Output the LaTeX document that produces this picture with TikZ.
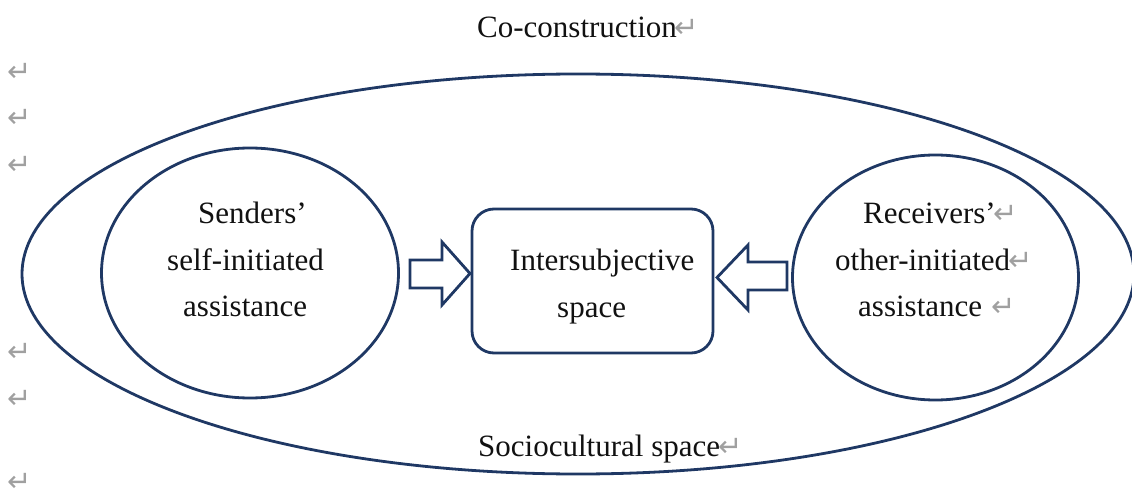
\documentclass[tikz,border=0pt]{standalone}
\usepackage{fontspec}
\setmainfont{Liberation Serif}
\newfontfamily\markfont{DejaVu Sans}
\usetikzlibrary{shapes.geometric}
\definecolor{navy}{HTML}{1F3864}
\definecolor{markgray}{HTML}{A0A0A0}
\definecolor{ink}{HTML}{111111}
% paragraph mark used after lines of text
\newcommand{\pmk}{{\markfont\fontsize{29}{29}\selectfont\color{markgray}\kern-2pt↵}}

\begin{document}
\begin{tikzpicture}[x=1pt,y=-1pt,
  outline/.style={draw=navy,line width=2.8pt},
  txt/.style={inner sep=0pt,anchor=base west,text=ink,
    font=\fontsize{31}{46}\selectfont},
  pmark/.style={inner sep=0pt,anchor=center,text=markgray,
    font=\markfont\fontsize{29}{29}\selectfont},
  blockarrow/.style={outline,fill=white,line join=miter}]
\useasboundingbox (0,0) rectangle (1132,497);

% shapes
\node[outline,ellipse,minimum width=1112pt,minimum height=400pt] (outer) at (578,274) {};
\node[outline,ellipse,minimum width=297pt,minimum height=250pt] (sender) at (250,273) {};
\node[outline,ellipse,minimum width=286pt,minimum height=245pt] (receiver) at (935.5,277.5) {};
\node[outline,rectangle,rounded corners=22pt,minimum width=241pt,minimum height=144pt] (inter) at (592.5,281) {};

% block arrows pointing into the central box
\draw[blockarrow] (410,260) -- (442,260) -- (442,242) -- (470,273.5) -- (442,305)
  -- (442,288) -- (410,288) -- cycle;
\draw[blockarrow] (787,262) -- (748,262) -- (748,245) -- (717,277.5) -- (748,310)
  -- (748,290) -- (787,290) -- cycle;

% labels
\node[txt] (co) at (477,38) {Co-construction\pmk};
\node[txt] (s1) at (198,223) {Senders’};
\node[txt] (s2) at (167,270) {self-initiated};
\node[txt] (s3) at (183,316) {assistance};
\node[txt] (i1) at (510,270) {Intersubjective};
\node[txt] (i2) at (557,317) {space};
\node[txt] (r1) at (863,223) {Receivers’\pmk};
\node[txt] (r2) at (835,270) {other-initiated\pmk};
\node[txt] (r3) at (858,316) {assistance\hspace{11pt}\pmk};
\node[txt] (soc) at (478,456) {Sociocultural space\pmk};

% empty paragraph marks down the left margin
\node[pmark] (m1) at (20,72) {↵};
\node[pmark] (m2) at (20,118) {↵};
\node[pmark] (m3) at (20,165) {↵};
\node[pmark] (m4) at (20,352) {↵};
\node[pmark] (m5) at (20,399) {↵};
\node[pmark] (m6) at (20,482) {↵};
\end{tikzpicture}
\end{document}
